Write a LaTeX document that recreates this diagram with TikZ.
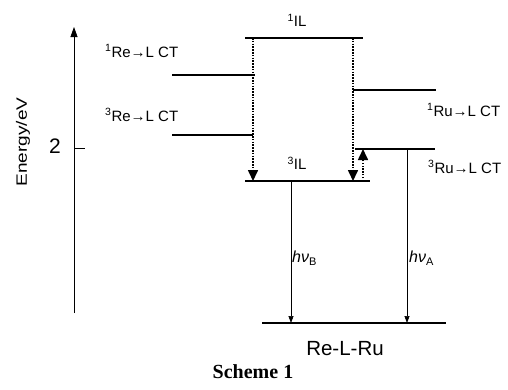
\documentclass[tikz,border=0pt]{standalone}
\usepackage{fontspec}
\setmainfont{Liberation Sans}
\newfontfamily\serifbold{Liberation Serif}
\usetikzlibrary{arrows.meta}
\newcommand{\hnusub}[1]{{\fontsize{16}{19}\selectfont\itshape hν}\raisebox{-3pt}{\fontsize{11}{13}\selectfont #1}}
\begin{document}
\begin{tikzpicture}[x=1pt,y=-1pt,
  level/.style={line width=1.6pt},
  dotarrow/.style={line width=1.6pt, dash pattern=on 1.5pt off 1.3pt, -{Triangle[width=10pt,length=11pt]}},
  emit/.style={line width=0.7pt, -{Triangle[width=5pt,length=7pt]}},
  lbl/.style={font=\fontsize{15}{18}\selectfont, inner sep=0pt}]
\useasboundingbox (0,0) rectangle (508,389);

% energy axis
\coordinate (ax0) at (74,313);
\coordinate (ax1) at (74,27);
\draw[line width=0.8pt,-{Triangle[width=7pt,length=10pt]}] (ax0) -- (ax1);
\coordinate (t0) at (74,148);
\coordinate (t1) at (85,148);
\draw[line width=0.8pt] (t0) -- (t1);
\node[font=\fontsize{21}{24}\selectfont, inner sep=0pt] (two) at (55,146) {2};
\node[rotate=90, inner sep=0pt] (ylab) at (23,142) {\scalebox{1.27}[1]{\fontsize{15}{18}\selectfont Energy/eV}};

% levels
\coordinate (IL1a) at (245,38);  \coordinate (IL1b) at (363,38);
\coordinate (IL3a) at (245,181); \coordinate (IL3b) at (370,181);
\coordinate (Re1a) at (172,75);  \coordinate (Re1b) at (255,75);
\coordinate (Re3a) at (172,135); \coordinate (Re3b) at (253,135);
\coordinate (Ru1a) at (353,90);  \coordinate (Ru1b) at (436,90);
\coordinate (Ru3a) at (355,149); \coordinate (Ru3b) at (435,149);
\coordinate (Ga) at (262,323);   \coordinate (Gb) at (446,323);
\foreach \l in {IL1,IL3,Re1,Re3,Ru1,Ru3,G}
  \draw[level] (\l a) -- (\l b);

% transitions
\coordinate (dL0) at (253,38);  \coordinate (dL1) at (253,181);
\coordinate (dR0) at (353,38);  \coordinate (dR1) at (353,181);
\coordinate (u0) at (363,181);  \coordinate (u1) at (363,149);
\coordinate (B0) at (291,181);  \coordinate (B1) at (291,323);
\coordinate (A0) at (407,149);  \coordinate (A1) at (407,323);
\draw[dotarrow] (dL0) -- (dL1);
\draw[dotarrow] (dR0) -- (dR1);
\draw[dotarrow] (u0) -- (u1);
\draw[emit] (B0) -- (B1);
\draw[emit] (A0) -- (A1);

% labels
\node[lbl] (lIL1) at (297,20) {\textsuperscript{1}IL};
\node[lbl] (lIL3) at (297,163) {\textsuperscript{3}IL};
\node[lbl, anchor=west] (lRe1) at (105,51) {\textsuperscript{1}Re→L CT};
\node[lbl, anchor=west] (lRe3) at (105,115) {\textsuperscript{3}Re→L CT};
\node[lbl, anchor=west] (lRu1) at (427,110) {\textsuperscript{1}Ru→L CT};
\node[lbl, anchor=west] (lRu3) at (428,167) {\textsuperscript{3}Ru→L CT};
\node[inner sep=0pt, anchor=base west] (lB) at (292,262) {\hnusub{B}};
\node[inner sep=0pt, anchor=base west] (lA) at (409,262) {\hnusub{A}};
\node[font=\fontsize{20.5}{24}\selectfont, inner sep=0pt] (mol) at (345,349) {Re-L-Ru};
\node[font=\serifbold\bfseries\fontsize{20}{24}\selectfont, inner sep=0pt] (cap) at (253,372) {Scheme 1};
\end{tikzpicture}
\end{document}
